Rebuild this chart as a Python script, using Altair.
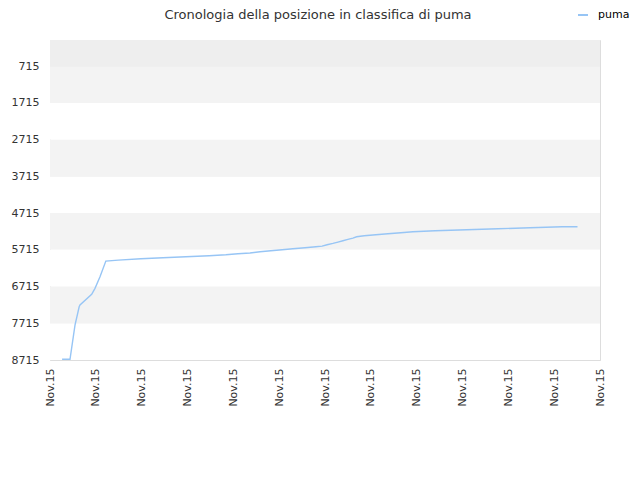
import altair as alt
import pandas as pd

# data
days = [2.9, 4.8, 6.0, 7.0, 7.2, 10.0, 10.8, 12.0, 13.4, 16.4, 21.8, 27.1, 32.6, 38.2, 42.2, 45.1,
        48.0, 50.4, 53.0, 55.7, 58.3, 61.2, 63.8, 65.3, 66.5, 67.9, 69.1, 70.3, 71.5, 72.7, 73.6,
        75.4, 78.2, 81.1, 84.2, 87.1, 92.4, 100.0, 107.5, 115.2, 122.9, 126.6]
ranks = [8696, 8696, 7763, 7265, 7218, 6927, 6764, 6448, 6021, 5994, 5958, 5931, 5904, 5877, 5850, 5822,
         5803, 5768, 5741, 5714, 5686, 5659, 5632, 5613, 5578, 5540, 5504, 5469, 5431, 5395, 5360,
         5333, 5305, 5278, 5251, 5224, 5196, 5169, 5142, 5115, 5088, 5088]
series_name = "puma"
y_ticks = [715, 1715, 2715, 3715, 4715, 5715, 6715, 7715, 8715]
x_ticks = [0, 11, 22, 33, 44, 55, 66, 77, 88, 99, 110, 121, 132]
x_label = "Nov.15"
band_edges = [1] + y_ticks
band_colors = ["#eeeeee", "#f3f3f3", "#ffffff", "#f3f3f3", "#ffffff", "#f3f3f3", "#ffffff", "#f3f3f3", "#ffffff"]

line_df = pd.DataFrame({"day": days, "rank": ranks, "serie": series_name})
band_df = pd.DataFrame({"y0": band_edges[:-1], "y1": band_edges[1:], "fill": band_colors})

yscale = alt.Scale(domain=[1, 8715], reverse=True, nice=False, zero=False)
xscale = alt.Scale(domain=[0, 132], nice=False, zero=False)

yaxis = alt.Axis(values=y_ticks, format="d", labelOverlap=False, title=None, grid=True,
                 gridColor="#dddddd", domain=False,
                 ticks=False, labelPadding=11, labelFontSize=11, labelColor="#333333",
                 labelFont="DejaVu Sans")

bands = alt.Chart(band_df).mark_rect().encode(
    y=alt.Y("y0:Q", scale=yscale, axis=yaxis),
    y2="y1:Q",
    x=alt.value(0),
    x2=alt.value(550),
    fill=alt.Fill("fill:N", scale=None),
)

line = alt.Chart(line_df).mark_line(strokeWidth=1.4).encode(
    x=alt.X("day:Q", scale=xscale,
            axis=alt.Axis(values=x_ticks, labelExpr="'" + x_label + "'", title=None, grid=False,
                          domain=False, ticks=False, labelAngle=270, labelAlign="right",
                          labelBaseline="middle", labelPadding=8, labelFontSize=11,
                          labelOverlap=False, labelColor="#333333", labelFont="DejaVu Sans")),
    y=alt.Y("rank:Q", scale=yscale, axis=yaxis),
    color=alt.Color("serie:N", scale=alt.Scale(range=["#97c5f5"]),
                    legend=alt.Legend(title=None, orient="none", legendX=527, legendY=-31,
                                      symbolType="stroke", symbolStrokeWidth=2, symbolSize=100,
                                      labelOffset=9,
                                      labelFontSize=11, labelFont="DejaVu Sans", labelColor="#000000")),
)

chart = alt.layer(bands, line).properties(
    width=550,
    height=320,
    title=alt.TitleParams("Cronologia della posizione in classifica di puma", fontSize=13,
                          font="DejaVu Sans", fontWeight="normal", color="#333333", anchor="middle",
                          dx=-7, offset=-13),
    autosize=alt.AutoSizeParams(type="none"),
    padding={"left": 42, "top": 32, "right": 32, "bottom": 90},
).configure_view(stroke="#dddddd").configure_axisY(labelOverlap=False)

chart.save("out.html", embed_options={"renderer": "svg", "actions": False})
